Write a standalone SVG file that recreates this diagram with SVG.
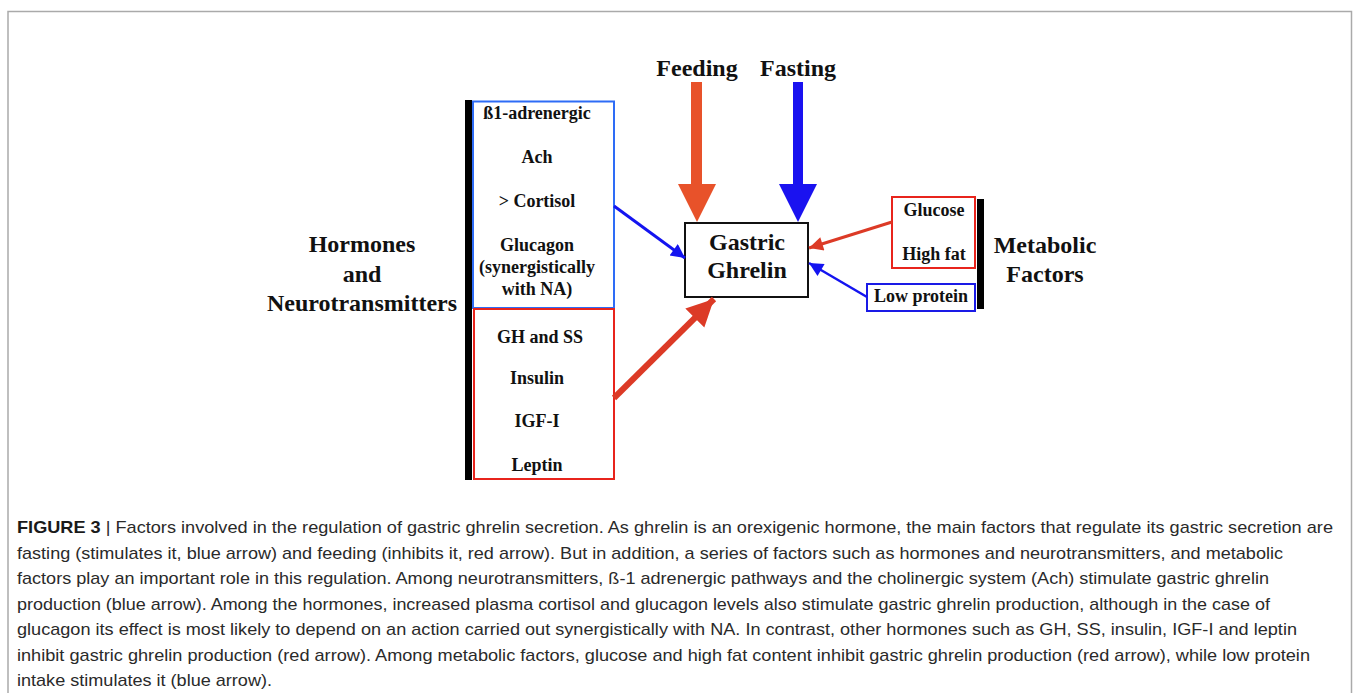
<svg xmlns="http://www.w3.org/2000/svg" width="1354" height="693" viewBox="0 0 1354 693">
<defs>
<style>
.lbl{font-family:"Liberation Serif","Times New Roman",serif;font-weight:bold;fill:#111;text-anchor:middle}
.s17{font-size:18px}
.s24{font-size:24px}
.cap{font-family:"Liberation Sans",Arial,sans-serif;font-size:17px;fill:#2a2a2a}
</style>
<marker id="hb" viewBox="0 0 10 10" refX="10" refY="5" markerUnits="userSpaceOnUse" markerWidth="17" markerHeight="14" orient="auto"><path d="M0,0 L10,5 L0,10 Z" fill="#1414f0"/></marker>
<marker id="hr" viewBox="0 0 10 10" refX="10" refY="5" markerUnits="userSpaceOnUse" markerWidth="17" markerHeight="14" orient="auto"><path d="M0,0 L10,5 L0,10 Z" fill="#dc3a26"/></marker>
<marker id="hrBig" viewBox="0 0 10 10" refX="10" refY="5" markerUnits="userSpaceOnUse" markerWidth="27" markerHeight="30" orient="auto"><path d="M0,0 L10,5 L0,10 Z" fill="#dc3a26"/></marker>
</defs>
<rect width="1354" height="693" fill="#fff"/>
<path d="M8,693 V11.5 H1351.5 V693" fill="none" stroke="#aaa" stroke-width="1.5"/>

<g id="feeding">
<text class="lbl s24" x="697" y="76">Feeding</text>
<polygon points="691,82 702,82 702,184 716,184 697,222 678,184 691,184" fill="#e8522a"/>
</g>
<g id="fasting">
<text class="lbl s24" x="798" y="76">Fasting</text>
<polygon points="793,82 803,82 803,184 817,184 798,222 779,184 793,184" fill="#1a12f0"/>
</g>

<g id="gastric-ghrelin">
<rect x="685" y="223" width="123" height="74" fill="#fff" stroke="#111" stroke-width="2"/>
<text class="lbl s24" x="747" y="250">Gastric</text>
<text class="lbl s24" x="747" y="278">Ghrelin</text>
</g>

<g id="hormones-label">
<text class="lbl s24" x="362" y="252">Hormones</text>
<text class="lbl s24" x="362" y="282">and</text>
<text class="lbl s24" x="362" y="311">Neurotransmitters</text>
<rect x="465" y="100" width="7" height="380" fill="#000"/>
</g>

<g id="stimulators">
<rect x="473" y="101.5" width="141" height="206.5" fill="none" stroke="#2e6cf6" stroke-width="2"/>
<text class="lbl s17" x="537" y="119">ß1-adrenergic</text>
<text class="lbl s17" x="537" y="163">Ach</text>
<text class="lbl s17" x="537" y="207">&gt; Cortisol</text>
<text class="lbl s17" x="537" y="251">Glucagon</text>
<text class="lbl s17" x="537" y="273">(synergistically</text>
<text class="lbl s17" x="537" y="295">with NA)</text>
</g>

<g id="inhibitors">
<rect x="474" y="309" width="140" height="170" fill="none" stroke="#e8241c" stroke-width="2"/>
<text class="lbl s17" x="540" y="343">GH and SS</text>
<text class="lbl s17" x="537" y="384">Insulin</text>
<text class="lbl s17" x="537" y="427">IGF-I</text>
<text class="lbl s17" x="537" y="471">Leptin</text>
</g>

<g id="metabolic-label">
<rect x="977" y="199" width="7" height="110" fill="#000"/>
<text class="lbl s24" x="1045" y="253">Metabolic</text>
<text class="lbl s24" x="1045" y="282">Factors</text>
</g>

<g id="glucose-fat">
<rect x="892" y="197" width="83" height="71" fill="#fff" stroke="#e8241c" stroke-width="2"/>
<text class="lbl s17" x="934" y="216">Glucose</text>
<text class="lbl s17" x="934" y="260">High fat</text>
</g>

<g id="low-protein">
<rect x="867" y="284" width="108" height="27" fill="#fff" stroke="#1a1ae6" stroke-width="2"/>
<text class="lbl s17" x="921" y="302">Low protein</text>
</g>

<g id="connectors">
<line x1="614" y1="206" x2="685" y2="258" stroke="#1414f0" stroke-width="3" marker-end="url(#hb)"/>
<line x1="614" y1="398" x2="714" y2="299" stroke="#dc3a26" stroke-width="6" marker-end="url(#hrBig)"/>
<line x1="892" y1="222" x2="809" y2="248" stroke="#dc3a26" stroke-width="3" marker-end="url(#hr)"/>
<line x1="867" y1="297" x2="809" y2="263" stroke="#1414f0" stroke-width="2.5" marker-end="url(#hb)"/>
</g>

<g id="caption">
<text class="cap" x="17" y="533" textLength="1316" lengthAdjust="spacingAndGlyphs"><tspan font-weight="bold" fill="#1a1a1a">FIGURE 3</tspan> | Factors involved in the regulation of gastric ghrelin secretion. As ghrelin is an orexigenic hormone, the main factors that regulate its gastric secretion are</text>
<text class="cap" x="17" y="559" textLength="1266" lengthAdjust="spacingAndGlyphs">fasting (stimulates it, blue arrow) and feeding (inhibits it, red arrow). But in addition, a series of factors such as hormones and neurotransmitters, and metabolic</text>
<text class="cap" x="17" y="584" textLength="1252" lengthAdjust="spacingAndGlyphs">factors play an important role in this regulation. Among neurotransmitters, ß-1 adrenergic pathways and the cholinergic system (Ach) stimulate gastric ghrelin</text>
<text class="cap" x="17" y="610" textLength="1253" lengthAdjust="spacingAndGlyphs">production (blue arrow). Among the hormones, increased plasma cortisol and glucagon levels also stimulate gastric ghrelin production, although in the case of</text>
<text class="cap" x="17" y="635" textLength="1280" lengthAdjust="spacingAndGlyphs">glucagon its effect is most likely to depend on an action carried out synergistically with NA. In contrast, other hormones such as GH, SS, insulin, IGF-I and leptin</text>
<text class="cap" x="17" y="661" textLength="1293" lengthAdjust="spacingAndGlyphs">inhibit gastric ghrelin production (red arrow). Among metabolic factors, glucose and high fat content inhibit gastric ghrelin production (red arrow), while low protein</text>
<text class="cap" x="17" y="686" textLength="255" lengthAdjust="spacingAndGlyphs">intake stimulates it (blue arrow).</text>
</g>
</svg>
